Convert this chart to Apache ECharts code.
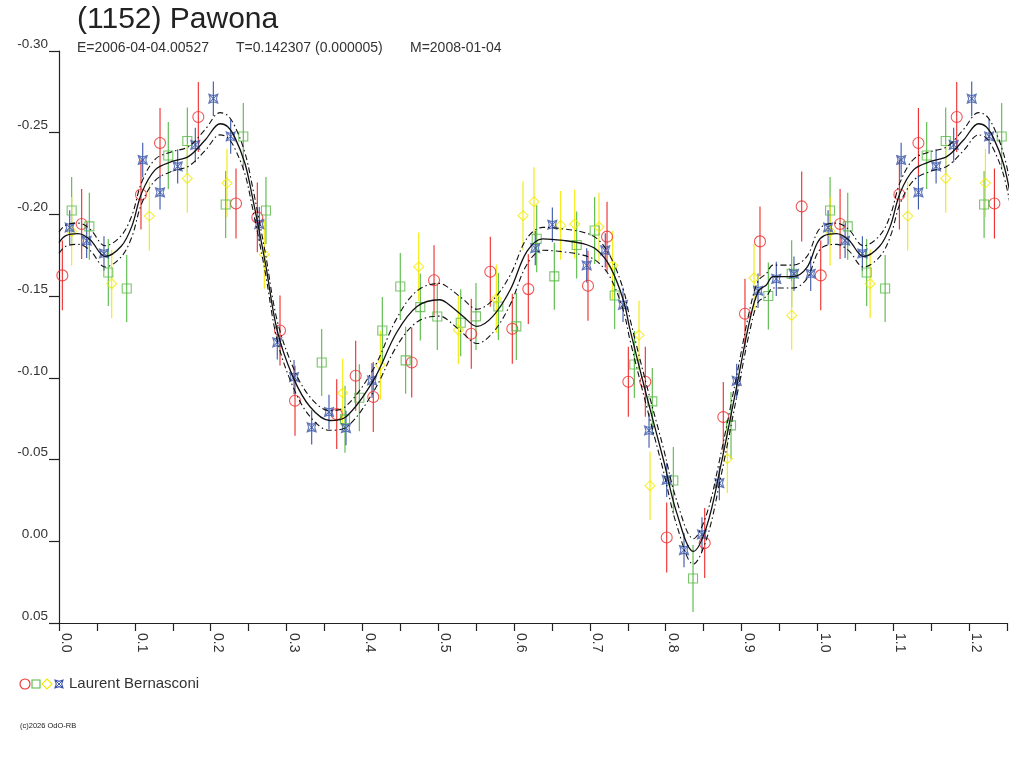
<!DOCTYPE html>
<html>
<head>
<meta charset="utf-8">
<title>(1152) Pawona</title>
<script src="https://cdn.jsdelivr.net/npm/echarts@6/dist/echarts.min.js"></script>
<style>
    html, body { margin: 0; padding: 0; background: #fff; }
    #chart { width: 1024px; height: 768px; }
</style>
</head>
<body>
<div id="chart"></div>
<script>
// 各观测段的数据 (相位, 星等)
const redPhase = [0.0044, 0.0299, 0.1081, 0.1332, 0.1837, 0.2334, 0.2615, 0.2914, 0.3112, 0.3662, 0.3912, 0.4144, 0.4651, 0.4945, 0.5436, 0.5687, 0.5977, 0.6188, 0.6975, 0.7226, 0.7507, 0.7731, 0.8013, 0.8514, 0.8759, 0.9045, 0.9243, 0.9793];
const redMag   = [-0.1627, -0.1941, -0.2122, -0.2437, -0.2596, -0.2067, -0.1982, -0.1290, -0.0860, -0.0778, -0.1013, -0.0883, -0.1094, -0.1597, -0.1270, -0.1649, -0.1300, -0.1543, -0.1564, -0.1864, -0.0976, -0.0976, -0.0023, 0.0011, -0.0760, -0.1392, -0.1835, -0.2049];

const greenPhase = [0.0167, 0.0400, 0.0650, 0.0893, 0.1441, 0.1692, 0.2198, 0.2430, 0.2729, 0.3464, 0.3771, 0.3960, 0.4263, 0.4500, 0.4571, 0.4764, 0.4988, 0.5297, 0.5498, 0.5793, 0.6030, 0.6299, 0.6531, 0.6826, 0.7063, 0.7327, 0.7586, 0.7823, 0.8100, 0.8360, 0.8861, 0.9353, 0.9661];
const greenMag   = [-0.2024, -0.1927, -0.1645, -0.1547, -0.2361, -0.2449, -0.2061, -0.2477, -0.2024, -0.1094, -0.0746, -0.0878, -0.1290, -0.1559, -0.1107, -0.1433, -0.1375, -0.1337, -0.1376, -0.1437, -0.1315, -0.1851, -0.1621, -0.1813, -0.1902, -0.1504, -0.1082, -0.0856, -0.0372, 0.0228, -0.0709, -0.1501, -0.1637];

const yellowPhase = [0.0167, 0.0695, 0.1191, 0.1692, 0.2215, 0.2707, 0.3741, 0.4237, 0.4743, 0.5265, 0.5766, 0.6118, 0.6263, 0.6615, 0.6800, 0.7120, 0.7301, 0.7648, 0.7793, 0.8812, 0.9164, 0.9661];
const yellowMag   = [-0.1896, -0.1576, -0.1990, -0.2220, -0.2192, -0.1755, -0.0907, -0.1078, -0.1680, -0.1293, -0.1484, -0.1992, -0.2078, -0.1933, -0.1941, -0.1923, -0.1688, -0.1262, -0.0340, -0.0505, -0.1611, -0.1382];

const bluePhase = [0.0141, 0.0365, 0.0593, 0.1104, 0.1332, 0.1565, 0.1797, 0.2035, 0.2264, 0.2641, 0.2878, 0.3099, 0.3332, 0.3560, 0.3784, 0.4127, 0.6280, 0.6505, 0.6958, 0.7203, 0.7437, 0.7780, 0.8013, 0.8241, 0.8478, 0.8707, 0.8936, 0.9217, 0.9458, 0.9691, 0.9912];
const blueMag   = [-0.1920, -0.1839, -0.1761, -0.2333, -0.2135, -0.2294, -0.2425, -0.2708, -0.2477, -0.1941, -0.1217, -0.1005, -0.0697, -0.0791, -0.0693, -0.0984, -0.1794, -0.1937, -0.1688, -0.1780, -0.1447, -0.0678, -0.0376, 0.0054, -0.0042, -0.0356, -0.0982, -0.1533, -0.1606, -0.1637, -0.1637];

// 误差 (星等)
const redErr = 0.0214, greenErr = 0.0205, yellowErr = 0.021, blueErr = 0.0105;

// 拟合曲线及其包络
const fitPhase = [0.000, 0.009, 0.025, 0.041, 0.061, 0.082, 0.096, 0.109, 0.127, 0.149, 0.171, 0.193, 0.2125, 0.2225, 0.232, 0.245, 0.254, 0.272, 0.2875, 0.3085, 0.331, 0.357, 0.379, 0.415, 0.445, 0.472, 0.502, 0.511, 0.533, 0.551, 0.572, 0.595, 0.617, 0.638, 0.665, 0.691, 0.709, 0.7265, 0.744, 0.753, 0.775, 0.797, 0.8145, 0.8365, 0.854, 0.8715, 0.8935, 0.911, 0.922, 0.933, 0.9415, 0.968, 0.986, 1.000];
const fitMag   = [-0.1827, -0.1870, -0.1882, -0.1845, -0.1743, -0.1805, -0.1927, -0.2131, -0.2274, -0.2324, -0.2355, -0.2457, -0.2555, -0.2537, -0.2470, -0.2315, -0.2131, -0.1705, -0.1294, -0.1006, -0.0823, -0.0739, -0.0764, -0.0988, -0.1276, -0.1437, -0.1478, -0.1460, -0.1376, -0.1315, -0.1376, -0.1539, -0.1774, -0.1851, -0.1841, -0.1821, -0.1784, -0.1682, -0.1478, -0.1294, -0.0886, -0.0499, -0.0174, 0.0062, -0.0091, -0.0438, -0.0947, -0.1356, -0.1529, -0.1570, -0.1620, -0.1620, -0.1674, -0.1827];
const fitUpper = [-0.1892, -0.1935, -0.1947, -0.1910, -0.1808, -0.1870, -0.1992, -0.2196, -0.2339, -0.2384, -0.2415, -0.2522, -0.2623, -0.2605, -0.2538, -0.2380, -0.2196, -0.1765, -0.1354, -0.1066, -0.0883, -0.0799, -0.0829, -0.1058, -0.1361, -0.1532, -0.1578, -0.1560, -0.1481, -0.1420, -0.1476, -0.1629, -0.1854, -0.1921, -0.1911, -0.1891, -0.1854, -0.1747, -0.1543, -0.1359, -0.0951, -0.0569, -0.0249, -0.0016, -0.0166, -0.0508, -0.1012, -0.1421, -0.1594, -0.1640, -0.1690, -0.1690, -0.1742, -0.1892];
const fitLower = [-0.1762, -0.1805, -0.1817, -0.1780, -0.1678, -0.1740, -0.1862, -0.2066, -0.2209, -0.2264, -0.2295, -0.2392, -0.2487, -0.2469, -0.2402, -0.2250, -0.2066, -0.1645, -0.1234, -0.0946, -0.0763, -0.0679, -0.0699, -0.0918, -0.1191, -0.1342, -0.1378, -0.1360, -0.1271, -0.1210, -0.1276, -0.1449, -0.1694, -0.1781, -0.1771, -0.1751, -0.1714, -0.1617, -0.1413, -0.1229, -0.0821, -0.0429, -0.0099, 0.0140, -0.0016, -0.0368, -0.0882, -0.1291, -0.1464, -0.1500, -0.1550, -0.1550, -0.1606, -0.1762];

const PHASE_MAX = 1.25;

const RED = '#ee2a2a', GREEN = '#55b844', YELLOW = '#f2ea00', BLUE = '#3a55a8';
const STAR = 'path://M0,0L5,1.6L10,0L8.4,5L10,10L5,8.4L0,10L1.6,5ZM0,0L10,10M10,0L0,10';
const FONT = '"Liberation Sans", Arial, sans-serif';

// 相位图: 0~0.25 的点在 1.0~1.25 处重复显示
function folded(phases, mags, pad) {
    const out = [];
    phases.forEach((p, i) => out.push([p, mags[i]]));
    phases.forEach((p, i) => {
        if (p + 1 <= PHASE_MAX + pad) out.push([p + 1, mags[i]]);
    });
    return out;
}

function errorBars(data, err, color) {
    return {
        type: 'custom',
        data: data,
        silent: true,
        clip: true,
        z: 2,
        renderItem: function(params, api) {
            const x = api.value(0), y = api.value(1);
            const a = api.coord([x, y - err]);
            const b = api.coord([x, y + err]);
            return {
                type: 'line',
                shape: { x1: a[0], y1: a[1], x2: b[0], y2: b[1] },
                style: { stroke: color, lineWidth: 1.1 }
            };
        }
    };
}

function points(data, symbol, size, color) {
    return {
        type: 'scatter',
        data: data,
        symbol: symbol,
        symbolSize: size,
        silent: true,
        z: 3,
        itemStyle: { color: 'rgba(0,0,0,0)', borderColor: color, borderWidth: 1.1 }
    };
}

function curve(data, dashed) {
    return {
        type: 'line',
        data: data,
        smooth: 0.35,
        showSymbol: false,
        silent: true,
        clip: true,
        z: 4,
        lineStyle: {
            color: '#111',
            width: dashed ? 1.1 : 1.3,
            type: dashed ? [6, 3, 1.5, 3] : 'solid'
        }
    };
}

const redData = folded(redPhase, redMag, 0);
const greenData = folded(greenPhase, greenMag, 0);
const yellowData = folded(yellowPhase, yellowMag, 0);
const blueData = folded(bluePhase, blueMag, 0);

const chart = echarts.init(document.getElementById('chart'));

chart.setOption({
    animation: false,
    backgroundColor: '#fff',
    grid: { left: 59, right: 17, top: 51, bottom: 145 },
    xAxis: {
        type: 'value',
        min: 0,
        max: PHASE_MAX,
        interval: 0.05,
        splitLine: { show: false },
        axisLine: { onZero: false, lineStyle: { color: '#222', width: 1.2 } },
        axisTick: { length: 8, lineStyle: { color: '#222', width: 1.2 } },
        axisLabel: {
            rotate: -90,
            margin: 10,
            verticalAlign: 'bottom',
            color: '#333',
            fontFamily: FONT,
            fontSize: 14,
            formatter: function(v) {
                const k = Math.round(v * 100);
                return k % 10 === 0 ? (k / 100).toFixed(1) : '';
            }
        }
    },
    yAxis: {
        type: 'value',
        inverse: true,
        min: -0.30,
        max: 0.05,
        interval: 0.05,
        splitLine: { show: false },
        axisLine: { show: true, onZero: false, lineStyle: { color: '#222', width: 1.2 } },
        axisTick: { show: true, length: 10, lineStyle: { color: '#222', width: 1.2 } },
        axisLabel: {
            margin: 11,
            verticalAlign: 'bottom',
            color: '#333',
            fontFamily: FONT,
            fontSize: 13.5,
            formatter: function(v) { return v.toFixed(2); }
        }
    },
    series: [
        errorBars(redData, redErr, RED),
        errorBars(greenData, greenErr, GREEN),
        errorBars(yellowData, yellowErr, YELLOW),
        errorBars(blueData, blueErr, BLUE),
        points(redData, 'circle', 11, RED),
        points(greenData, 'rect', 9, GREEN),
        points(yellowData, 'diamond', 10, YELLOW),
        points(blueData, STAR, 9, BLUE),
        curve(folded(fitPhase, fitMag, 0.01), false),
        curve(folded(fitPhase, fitUpper, 0.01), true),
        curve(folded(fitPhase, fitLower, 0.01), true)
    ],
    graphic: [
        { type: 'text', left: 77, top: 5, style: { text: '(1152) Pawona', fill: '#222', font: '30px ' + FONT } },
        { type: 'text', left: 77, top: 41, style: { text: 'E=2006-04-04.00527', fill: '#333', font: '14px ' + FONT } },
        { type: 'text', left: 236, top: 41, style: { text: 'T=0.142307 (0.000005)', fill: '#333', font: '14px ' + FONT } },
        { type: 'text', left: 410, top: 41, style: { text: 'M=2008-01-04', fill: '#333', font: '14px ' + FONT } },
        // 图例
        { type: 'circle', shape: { cx: 25, cy: 684, r: 5 }, style: { fill: 'none', stroke: RED, lineWidth: 1.1 } },
        { type: 'rect', shape: { x: 32, y: 680, width: 8, height: 8 }, style: { fill: 'none', stroke: GREEN, lineWidth: 1.1 } },
        { type: 'polygon', shape: { points: [[47, 679], [52, 684], [47, 689], [42, 684]] }, style: { fill: 'none', stroke: YELLOW, lineWidth: 1.1 } },
        { type: 'polygon', shape: { points: [[55, 680], [59, 681.3], [63, 680], [61.7, 684], [63, 688], [59, 686.7], [55, 688], [56.3, 684]] }, style: { fill: 'none', stroke: BLUE, lineWidth: 1.1 } },
        { type: 'line', shape: { x1: 55, y1: 680, x2: 63, y2: 688 }, style: { stroke: BLUE, lineWidth: 1 } },
        { type: 'line', shape: { x1: 63, y1: 680, x2: 55, y2: 688 }, style: { stroke: BLUE, lineWidth: 1 } },
        { type: 'text', left: 69, top: 676, style: { text: 'Laurent Bernasconi', fill: '#333', font: '15px ' + FONT } },
        { type: 'text', left: 20, top: 722, style: { text: '(c)2026 OdO-RB', fill: '#222', font: '7.5px ' + FONT } }
    ]
});
</script>
</body>
</html>
